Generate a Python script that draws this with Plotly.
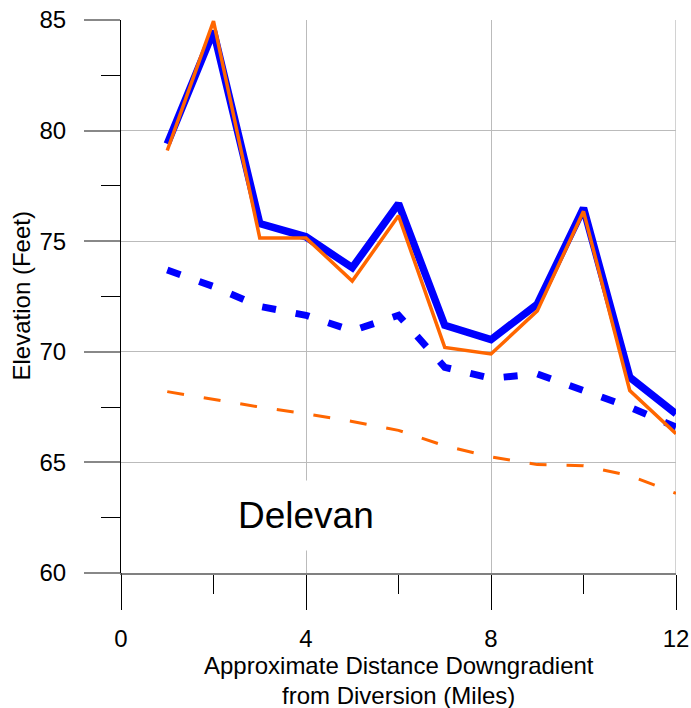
import plotly.graph_objects as go

distance = [1, 2, 3, 4, 5, 6, 7, 8, 9, 10, 11, 12]
blue_solid = [79.4, 84.5, 75.8, 75.2, 73.8, 76.7, 71.2, 70.55, 72.15, 76.5, 68.85, 67.2]
orange_solid = [79.1, 84.95, 75.15, 75.15, 73.2, 76.15, 70.2, 69.9, 71.85, 76.35, 68.25, 66.3]
blue_dashed = [73.7, 72.95, 72.05, 71.65, 70.95, 71.65, 69.3, 68.8, 69.0, 68.25, 67.5, 66.6]
orange_dashed = [68.2, 67.85, 67.5, 67.2, 66.85, 66.45, 65.75, 65.25, 64.9, 64.85, 64.4, 63.6]

x_ticks = [0, 4, 8, 12]
y_ticks = [60, 65, 70, 75, 80, 85]
x_title_lines = ["Approximate Distance Downgradient", "from Diversion (Miles)"]

FONT = "Liberation Sans, Arial, sans-serif"
BLUE = "#0000FF"
ORANGE = "#FF6600"

fig = go.Figure()
fig.add_trace(go.Scatter(x=distance, y=blue_dashed, mode="lines",
                         line=dict(color=BLUE, width=7, dash="14px,20px")))
fig.add_trace(go.Scatter(x=distance, y=orange_dashed, mode="lines",
                         line=dict(color=ORANGE, width=3, dash="17px,20px")))
fig.add_trace(go.Scatter(x=distance, y=blue_solid, mode="lines",
                         line=dict(color=BLUE, width=7.5)))
fig.add_trace(go.Scatter(x=distance, y=orange_solid, mode="lines",
                         line=dict(color=ORANGE, width=3.5)))

annotations = [
    dict(text="Delevan", xref="x", yref="paper", x=4, y=-(515 - 573) / 553,
         xanchor="center", yanchor="middle", showarrow=False,
         font=dict(family=FONT, size=37, color="black"),
         bgcolor="white", borderpad=14),
    dict(text="Elevation (Feet)", xref="paper", yref="paper",
         x=(21 - 121) / 555, y=0.5, textangle=-90,
         xanchor="center", yanchor="middle", showarrow=False,
         font=dict(family=FONT, size=24, color="black")),
]
for line_text, center_px in zip(x_title_lines, [665, 695]):
    annotations.append(dict(text=line_text, xref="paper", yref="paper", x=0.5,
                            y=-(center_px - 573) / 553,
                            xanchor="center", yanchor="middle", showarrow=False,
                            borderpad=0,
                            font=dict(family=FONT, size=24, color="black")))

fig.update_layout(
    width=691, height=708,
    margin=dict(l=121, r=15, t=20, b=135, autoexpand=False),
    paper_bgcolor="white", plot_bgcolor="white",
    showlegend=False,
    font=dict(family=FONT, size=24, color="black"),
    xaxis=dict(
        range=[0, 12], tickvals=x_ticks, ticktext=[str(v) for v in x_ticks],
        ticks="outside", ticklen=35, tickcolor="black", tickwidth=1.2,
        ticklabelstandoff=8, automargin=False,
        showgrid=True, gridcolor="#BBBBBB", gridwidth=1.3,
        showline=True, linecolor="#808080", linewidth=1.5,
        zeroline=False,
        tickfont=dict(family=FONT, size=24),
        minor=dict(tickvals=[2, 6, 10], ticks="outside", ticklen=19,
                   tickcolor="black", tickwidth=1.2, showgrid=False),
    ),
    yaxis=dict(
        range=[60, 85], tickvals=y_ticks, ticktext=[str(v) for v in y_ticks],
        ticks="outside", ticklen=36, tickcolor="#888888", tickwidth=1.5,
        ticklabelstandoff=13, automargin=False,
        showgrid=True, gridcolor="#BBBBBB", gridwidth=1.3,
        showline=True, linecolor="black", linewidth=1.2,
        zeroline=False,
        tickfont=dict(family=FONT, size=24),
        minor=dict(tickvals=[62.5, 67.5, 72.5, 77.5, 82.5], ticks="outside",
                   ticklen=19, tickcolor="black", tickwidth=1.2, showgrid=False),
    ),
    shapes=[
        dict(type="line", xref="x", yref="paper", x0=0, x1=0, y0=0, y1=-35 / 553,
             line=dict(color="black", width=1.2)),
        dict(type="line", xref="x", yref="paper", x0=12, x1=12, y0=0, y1=1,
             line=dict(color="#BBBBBB", width=1.3), layer="below"),
    ],
    annotations=annotations,
)

fig.write_html("out.html", config={"displayModeBar": False},
               post_script="document.body.style.margin='0';")
